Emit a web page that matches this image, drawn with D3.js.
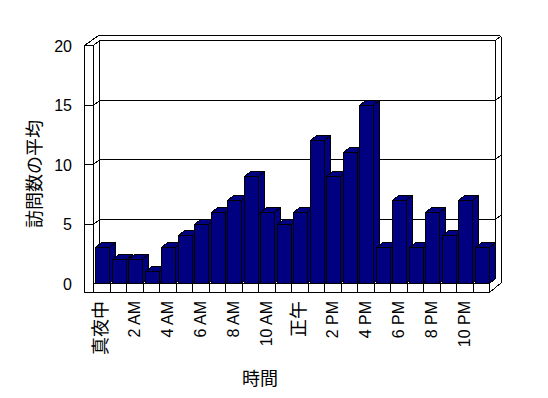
<!DOCTYPE html>
<html>
<head>
<meta charset="utf-8">
<script src="https://cdn.jsdelivr.net/npm/d3@7"></script>
<style>
  body { margin: 0; background: #fff; }
  svg text { font-family: "Liberation Sans", "Noto Sans CJK JP", sans-serif; fill: #000; }
</style>
</head>
<body>
<div id="chart"></div>
<script>
// hourly categories and their average visit counts
const categories = ['真夜中', '1 AM', '2 AM', '3 AM', '4 AM', '5 AM', '6 AM', '7 AM', '8 AM', '9 AM', '10 AM', '11 AM',
                    '正午', '1 PM', '2 PM', '3 PM', '4 PM', '5 PM', '6 PM', '7 PM', '8 PM', '9 PM', '10 PM', '11 PM'];
const visits = [3, 2, 2, 1, 3, 4, 5, 6, 7, 9, 6, 5, 6, 12, 9, 11, 15, 3, 7, 3, 6, 4, 7, 3];
const yTicks = [0, 5, 10, 15, 20];
const yTitle = '訪問数の平均';
const xTitle = '時間';

(function() {
  const width = 548, height = 398;
  const barColor = '#000080';

  const svg = d3.select('#chart').append('svg')
    .attr('width', width)
    .attr('height', height)
    .attr('shape-rendering', 'crispEdges');

  const x = d3.scaleBand().domain(categories).range([93, 489]).padding(0);
  const y = d3.scaleLinear().domain([0, 20]).range([283, 45]);

  // oblique depth offset for one layer (floor / back wall thickness)
  const dx = 6, dy = -5;
  const wallX = 84;          // outer edge of the left wall
  const floorBottom = 292;   // bottom of the floor slab
  const x0 = x.range()[0], x1 = x.range()[1];
  const yTop = y(20), yZero = y(0);
  const p = v => Math.round(v) + 0.5;

  const frame = svg.append('g').attr('fill', 'none').attr('stroke', '#000').attr('stroke-width', 1);

  // back wall front face
  frame.append('rect')
    .attr('x', p(x0 + dx)).attr('y', p(yTop + dy))
    .attr('width', Math.round(x1 - x0)).attr('height', Math.round(yZero - yTop));

  // gridlines: left wall tick -> inner face -> back wall -> back wall thickness
  yTicks.filter(v => v > 0 && v < 20).forEach(function(v) {
    const fy = y(v);
    frame.append('path').attr('d',
      'M' + p(wallX) + ',' + p(fy) + 'L' + p(x0) + ',' + p(fy) +
      'L' + p(x0 + dx) + ',' + p(fy + dy) + 'L' + p(x1 + dx) + ',' + p(fy + dy) +
      'L' + p(x1 + 2 * dx) + ',' + p(fy + 2 * dy));
  });

  // left wall front face and top face
  frame.append('path').attr('d',
    'M' + p(wallX) + ',' + p(floorBottom) + 'L' + p(wallX) + ',' + p(yTop) +
    'L' + p(x0) + ',' + p(yTop) + 'L' + p(x0) + ',' + p(yZero));
  frame.append('path').attr('d',
    'M' + p(wallX) + ',' + p(yTop) + 'L' + p(wallX + 2 * dx + 2) + ',' + p(yTop + 2 * dy) +
    'L' + p(x1 + 2 * dx - 2) + ',' + p(yTop + 2 * dy) + 'L' + p(x1 + 2 * dx) + ',' + p(yTop + 2 * dy + 2) +
    'L' + p(x1 + 2 * dx) + ',' + p(yZero + 2 * dy + 9) + 'L' + p(x1) + ',' + p(floorBottom) +
    'L' + p(wallX) + ',' + p(floorBottom));
  frame.append('path').attr('d',
    'M' + p(x0) + ',' + p(yTop) + 'L' + p(x0 + dx) + ',' + p(yTop + dy));
  frame.append('path').attr('d',
    'M' + p(x1 + dx) + ',' + p(yTop + dy) + 'L' + p(x1 + 2 * dx) + ',' + p(yTop + 2 * dy));
  frame.append('path').attr('d',
    'M' + p(x1) + ',' + p(yZero) + 'L' + p(x1 + dx) + ',' + p(yZero + dy));

  // floor front face cells
  frame.selectAll('.cell').data(categories).enter().append('rect')
    .attr('class', 'cell')
    .attr('x', d => p(x(d)))
    .attr('y', p(yZero))
    .attr('width', d => Math.round(x(d) + x.bandwidth()) - Math.round(x(d)))
    .attr('height', floorBottom - yZero);

  // 3D bars
  const bars = svg.append('g').attr('stroke', '#000').attr('fill', barColor);
  categories.forEach(function(c, i) {
    const bx = Math.round(x(c) + 2) + 0.5;
    const bw = Math.round(x.bandwidth() - 3);
    const by = p(y(visits[i]));
    const bb = p(yZero);
    bars.append('path').attr('d',
      'M' + (bx + bw) + ',' + by + 'L' + (bx + bw + dx) + ',' + (by + dy) +
      'L' + (bx + bw + dx) + ',' + (bb + dy) + 'L' + (bx + bw) + ',' + bb + 'Z');
    bars.append('path').attr('d',
      'M' + bx + ',' + by + 'L' + (bx + dx) + ',' + (by + dy) +
      'L' + (bx + bw + dx) + ',' + (by + dy) + 'L' + (bx + bw) + ',' + by + 'Z');
    bars.append('rect')
      .attr('x', bx).attr('y', by)
      .attr('width', bw).attr('height', bb - by);
  });

  // y tick labels
  svg.append('g').selectAll('text').data(yTicks).enter().append('text')
    .attr('x', 72)
    .attr('y', d => y(d) + 1)
    .attr('text-anchor', 'end')
    .attr('dominant-baseline', 'central')
    .attr('font-size', '16px')
    .text(d => d);

  // x tick labels (every other hour), rotated
  svg.append('g').selectAll('text')
    .data(categories.filter((d, i) => i % 2 === 0)).enter().append('text')
    .attr('transform', d => 'translate(' + (x(d) + x.bandwidth() / 2) + ',301) rotate(-90)')
    .attr('text-anchor', 'end')
    .attr('dominant-baseline', 'central')
    .attr('font-size', d => /^[\x00-\x7f]*$/.test(d) ? '16px' : '18px')
    .text(d => d);

  // axis titles
  svg.append('text')
    .attr('transform', 'translate(35,174) rotate(-90)')
    .attr('text-anchor', 'middle')
    .attr('dominant-baseline', 'central')
    .attr('font-size', '18px')
    .text(yTitle);

  svg.append('text')
    .attr('x', 260)
    .attr('y', 379)
    .attr('text-anchor', 'middle')
    .attr('dominant-baseline', 'central')
    .attr('font-size', '18px')
    .text(xTitle);
})();
</script>
</body>
</html>
